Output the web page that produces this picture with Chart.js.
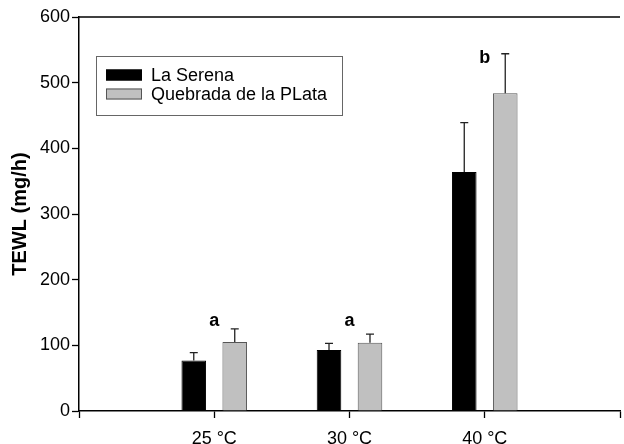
<!DOCTYPE html>
<html>
<head>
<meta charset="utf-8">
<script src="https://cdn.jsdelivr.net/npm/chart.js@4"></script>
<style>
  html, body { margin: 0; padding: 0; background: #fff; overflow: hidden; }
  #wrap { width: 624px; height: 444px; overflow: hidden; }
</style>
</head>
<body>
<div id="wrap"><canvas id="tewlChart" width="630" height="444"></canvas></div>
<script>
// categories (empty slots at both ends keep the axis spacing of the original)
const categories = ['', '25 °C', '30 °C', '40 °C', ''];
const laSerena = [null, 77, 93, 364, null];
const laSerenaErr = [null, 12, 10, 75, null];
const quebrada = [null, 105, 104, 484, null];
const quebradaErr = [null, 20, 13, 60, null];
const letters = ['', 'a', 'a', 'b', ''];
const letterLevels = [null, 137, 137, 537, null];
const yTicks = [0, 100, 200, 300, 400, 500, 600];

const FONT = "'Liberation Sans', Arial, Helvetica, sans-serif";
const errors = [laSerenaErr, quebradaErr];

// upper error bars + significance letters + top frame line + legend box
const extras = {
    id: 'extras',
    afterDatasetsDraw(chart) {
        const ctx = chart.ctx;
        const y = chart.scales.y, x = chart.scales.x;
        const area = chart.chartArea;
        ctx.save();
        ctx.strokeStyle = '#222';
        ctx.lineWidth = 1.3;
        chart.data.datasets.forEach((ds, di) => {
            const meta = chart.getDatasetMeta(di);
            meta.data.forEach((bar, i) => {
                if (ds.data[i] == null) return;
                const top = y.getPixelForValue(ds.data[i] + errors[di][i]);
                ctx.beginPath();
                ctx.moveTo(bar.x, bar.y);
                ctx.lineTo(bar.x, top);
                ctx.moveTo(bar.x - 4, top);
                ctx.lineTo(bar.x + 4, top);
                ctx.stroke();
            });
        });
        ctx.fillStyle = '#000';
        ctx.font = 'bold 18px ' + FONT;
        ctx.textAlign = 'center';
        ctx.textBaseline = 'middle';
        letters.forEach((l, i) => {
            if (!l) return;
            ctx.fillText(l, x.getPixelForValue(i), y.getPixelForValue(letterLevels[i]));
        });
        // top frame line
        ctx.strokeStyle = '#000';
        ctx.lineWidth = 1.5;
        ctx.beginPath();
        ctx.moveTo(area.left, area.top);
        ctx.lineTo(area.right, area.top);
        ctx.stroke();

        // legend box
        const lx = area.left + 17, ly = area.top + 39;
        ctx.strokeStyle = '#666';
        ctx.lineWidth = 1;
        ctx.strokeRect(lx + 0.5, ly + 0.5, 246, 59);
        chart.data.datasets.forEach((ds, di) => {
            const ry = ly + 19 + di * 19;
            ctx.fillStyle = ds.backgroundColor;
            ctx.fillRect(lx + 10, ry - 5.5, 36, 11);
            ctx.strokeStyle = ds.borderColor;
            ctx.strokeRect(lx + 10.5, ry - 5, 35, 10);
            ctx.fillStyle = '#000';
            ctx.font = '18px ' + FONT;
            ctx.textAlign = 'left';
            ctx.fillText(ds.label, lx + 55, ry + 1);
        });
        ctx.restore();
    }
};

new Chart(document.getElementById('tewlChart'), {
    type: 'bar',
    data: {
        labels: categories,
        datasets: [
            { label: 'La Serena', data: laSerena, backgroundColor: '#000', borderColor: '#000', borderWidth: 1 },
            { label: 'Quebrada de la PLata', data: quebrada, backgroundColor: '#c0c0c0', borderColor: '#555', borderWidth: 1 }
        ]
    },
    options: {
        responsive: false,
        animation: false,
        devicePixelRatio: 1,
        categoryPercentage: 0.606,
        barPercentage: 0.6,
        layout: { padding: { top: 17, right: 3, bottom: 0, left: 0 } },
        plugins: { legend: { display: false }, tooltip: { enabled: false } },
        scales: {
            x: {
                offset: false,
                afterFit: s => { s.height = 33; },
                grid: { offset: false, drawOnChartArea: false, tickLength: 7, color: '#000', tickWidth: 1.3 },
                border: { color: '#000', width: 1.5 },
                ticks: { color: '#000', font: { family: FONT, size: 18 }, padding: 10, maxRotation: 0, autoSkip: false }
            },
            y: {
                min: 0,
                max: 600,
                afterFit: s => { s.width = 79; },
                afterBuildTicks: s => { s.ticks = yTicks.map(v => ({ value: v })); },
                grid: { drawOnChartArea: false, tickLength: 7, color: '#000', tickWidth: 1.3 },
                border: { color: '#000', width: 1.5 },
                ticks: { color: '#000', font: { family: FONT, size: 18 }, padding: 2 },
                title: {
                    display: true,
                    text: 'TEWL (mg/h)',
                    color: '#000',
                    font: { family: FONT, size: 20, weight: 'bold' },
                    padding: { top: 8, bottom: 0 }
                }
            }
        }
    },
    plugins: [extras]
});
</script>
</body>
</html>
